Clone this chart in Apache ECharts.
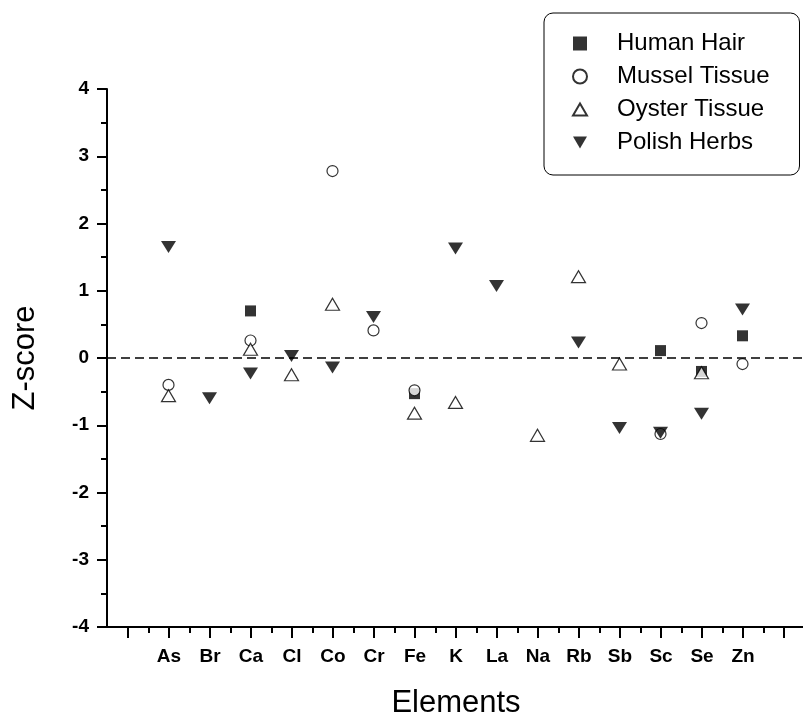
<!DOCTYPE html>
<html>
<head>
<meta charset="utf-8">
<title>Z-score by element</title>
<script src="https://cdn.jsdelivr.net/npm/echarts@6/dist/echarts.min.js"></script>
<style>
    html, body { margin: 0; padding: 0; background: #fff; }
    #main { width: 803px; height: 717px; }
</style>
</head>
<body>
<div id="main"></div>
<script>
// elements on the x axis (positions 1..15)
var elements = ['As', 'Br', 'Ca', 'Cl', 'Co', 'Cr', 'Fe', 'K', 'La', 'Na', 'Rb', 'Sb', 'Sc', 'Se', 'Zn'];

// z-scores per reference material, null = not measured
var humanHair    = [null, null, 0.70, null, null, null, -0.53, null, null, null, null, null, 0.11, -0.20, 0.33];
var musselTissue = [-0.40, null, 0.26, null, 2.78, 0.41, -0.48, null, null, null, null, null, -1.13, 0.52, -0.09];
var oysterTissue = [-0.56, null, 0.13, -0.25, 0.80, null, -0.82, -0.66, null, -1.15, 1.21, -0.09, null, -0.22, null];
var polishHerbs  = [1.65, -0.60, -0.23, 0.03, -0.14, 0.61, null, 1.63, 1.07, null, 0.23, -1.04, -1.11, -0.83, 0.72];

var yTicks = [-4, -3, -2, -1, 0, 1, 2, 3, 4];

var font = 'Liberation Sans, Arial, Helvetica, sans-serif';
// path symbols keep their aspect in the legend
var squareSym = 'path://M0,0 L10,0 L10,10 L0,10 Z';
var upTriangle = 'path://M5,0 L10,8.6 L0,8.6 Z';
var downTriangle = 'path://M0,0 L10,0 L5,8.6 Z';

// [position, value] pairs, skipping missing values
function toPoints(arr) {
    var out = [];
    for (var i = 0; i < arr.length; i++) {
        if (arr[i] !== null) out.push([i + 1, arr[i]]);
    }
    return out;
}

var chart = echarts.init(document.getElementById('main'));

var option = {
    animation: false,
    backgroundColor: '#fff',
    grid: [
        // data area, left edge is half a step before the first tick
        { left: 107, top: 89, width: 697, height: 538, outerBoundsMode: 'none' },
        // only carries the x ticks and element labels
        { left: 128, top: 89, width: 656, height: 538, outerBoundsMode: 'none' }
    ],
    legend: {
        orient: 'vertical',
        left: 544,
        top: 13,
        padding: [18, 30, 20, 28],
        itemWidth: 14,
        itemHeight: 14,
        itemGap: 8,
        borderColor: '#000',
        borderWidth: 1,
        borderRadius: 9,
        textStyle: { fontFamily: font, fontSize: 24, lineHeight: 25, color: '#000', padding: [0, 0, 0, 25] },
        data: ['Human Hair', 'Mussel Tissue', 'Oyster Tissue', 'Polish Herbs']
    },
    xAxis: [{
        type: 'value',
        gridIndex: 0,
        min: -0.5,
        max: 16.5,
        axisLine: { show: true, onZero: false, lineStyle: { color: '#000', width: 2 } },
        axisTick: { show: false },
        axisLabel: { show: false },
        splitLine: { show: false }
    }, {
        type: 'value',
        gridIndex: 1,
        min: 0,
        max: 16,
        interval: 1,
        axisLine: { show: false, onZero: false },
        axisTick: { show: true, inside: false, length: 11, lineStyle: { color: '#000', width: 2 } },
        minorTick: { show: true, splitNumber: 2, length: 6, lineStyle: { color: '#000', width: 2 } },
        axisLabel: {
            margin: 20,
            fontFamily: font,
            fontSize: 19,
            fontWeight: 'bold',
            color: '#000',
            formatter: function(v) { return elements[v - 1] || ''; }
        },
        splitLine: { show: false },
        name: 'Elements',
        nameLocation: 'middle',
        nameGap: 61,
        nameTextStyle: { fontFamily: font, fontSize: 31, color: '#000' }
    }],
    yAxis: [{
        type: 'value',
        gridIndex: 0,
        min: yTicks[0],
        max: yTicks[yTicks.length - 1],
        interval: 1,
        axisLine: { show: true, onZero: false, lineStyle: { color: '#000', width: 2 } },
        axisTick: { show: true, inside: false, length: 10, lineStyle: { color: '#000', width: 2 } },
        minorTick: { show: true, splitNumber: 2, length: 6, lineStyle: { color: '#000', width: 2 } },
        axisLabel: { margin: 18, fontFamily: font, fontSize: 19, fontWeight: 'bold', color: '#000' },
        splitLine: { show: false },
        name: 'Z-score',
        nameLocation: 'middle',
        nameGap: 66,
        nameTextStyle: { fontFamily: font, fontSize: 31, color: '#000' }
    }, {
        type: 'value',
        gridIndex: 1,
        show: false,
        min: -4,
        max: 4
    }],
    series: [{
        name: 'Human Hair',
        type: 'scatter',
        symbol: squareSym,
        symbolSize: 11,
        itemStyle: { color: '#000' },
        data: toPoints(humanHair),
        markLine: {
            silent: true,
            symbol: 'none',
            label: { show: false },
            lineStyle: { color: '#000', width: 1.5, type: [9, 5] },
            data: [{ yAxis: 0 }]
        }
    }, {
        name: 'Mussel Tissue',
        type: 'scatter',
        symbol: 'circle',
        symbolSize: 11,
        itemStyle: { color: '#fff', borderColor: '#000', borderWidth: 1.2 },
        data: toPoints(musselTissue)
    }, {
        name: 'Oyster Tissue',
        type: 'scatter',
        symbol: upTriangle,
        symbolSize: [14, 12],
        itemStyle: { color: '#fff', borderColor: '#000', borderWidth: 1.2 },
        data: toPoints(oysterTissue)
    }, {
        name: 'Polish Herbs',
        type: 'scatter',
        symbol: downTriangle,
        symbolSize: [15, 12],
        itemStyle: { color: '#000' },
        data: toPoints(polishHerbs)
    }]
};

chart.setOption(option);
</script>
</body>
</html>
